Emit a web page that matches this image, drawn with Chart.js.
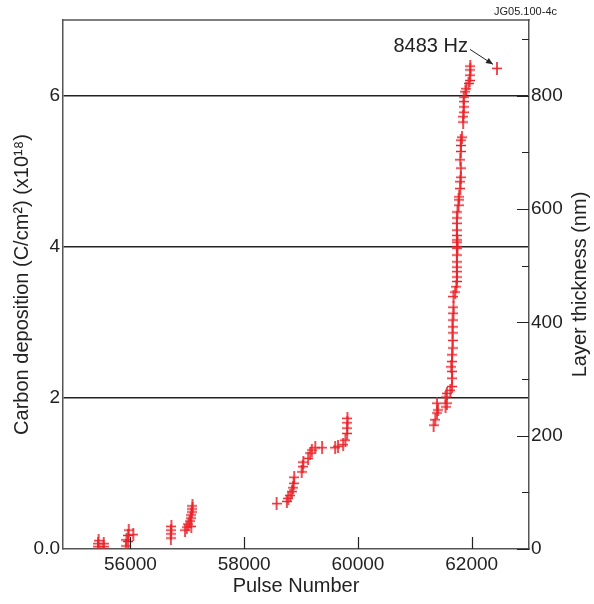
<!doctype html>
<html lang="en">
<head>
	<meta charset="utf-8">
	<title>Carbon deposition vs pulse number</title>
	<script src="https://cdn.jsdelivr.net/npm/chart.js@4.4.1/dist/chart.umd.min.js"></script>
	<style>
		html, body { margin: 0; padding: 0; background: #fff; }
	</style>
</head>

<body>
	<canvas id="myChart" width="594" height="604"></canvas>

	<script>
		// values (pulse number, carbon deposition in 1e18 C/cm2)
		var pulseNumber = [
			55430, 55430, 55440, 55530, 55530,
			55920, 55930, 55960, 55960, 56050, 55970,
			56710, 56710, 56715, 56720,
			56960, 56990, 57070, 57020, 57040, 57060, 57070, 57080, 57090, 57090,
			58570, 58750, 58775, 58810, 58840, 58860, 58870, 58880, 59010, 59030, 59040, 59125,
			59160, 59190, 59250, 59370, 59600, 59650, 59740, 59780, 59810, 59810, 59815, 59815,
			61330, 61360, 61390, 61410, 61390, 61540, 61565, 61540, 61565, 61625, 61655, 61655,
			61655, 61640, 61655, 61655, 61665, 61665, 61665, 61665, 61665, 61680, 61680, 61680,
			61710, 61730, 61740, 61740, 61740, 61740, 61740, 61740, 61750, 61740, 61750, 61740,
			61740, 61740, 61740, 61740, 61750, 61770, 61770, 61780, 61800, 61800, 61810, 61810,
			61800, 61810, 61810, 61810, 61830, 61850, 61850, 61860, 61860, 61860, 61860, 61890,
			61905, 61945, 61965, 61975, 61975, 61975,
			62445
		];
		var carbonDeposition = [
			0.03, 0.07, 0.11, 0.03, 0.07,
			0.04, 0.12, 0.10, 0.18, 0.19, 0.25,
			0.145, 0.20, 0.25, 0.30,
			0.25, 0.29, 0.30, 0.33, 0.37, 0.41, 0.45, 0.49, 0.53, 0.57,
			0.60, 0.63, 0.67, 0.71, 0.76, 0.81, 0.87, 0.95, 1.02, 1.09, 1.15, 1.20,
			1.27, 1.31, 1.34, 1.34, 1.34, 1.36, 1.38, 1.44, 1.53, 1.60, 1.67, 1.73,
			1.64, 1.71, 1.80, 1.84, 1.93, 1.88, 1.93, 2.01, 2.06, 2.10, 2.15, 2.26,
			2.35, 2.41, 2.48, 2.57, 2.66, 2.76, 2.86, 2.94, 3.03, 3.12, 3.20, 3.34,
			3.40, 3.47, 3.54, 3.60, 3.67, 3.73, 3.80, 3.89, 3.98, 4.00, 4.06, 4.09,
			4.15, 4.22, 4.31, 4.38, 4.46, 4.55, 4.62, 4.66, 4.77, 4.86, 4.92, 5.04,
			5.15, 5.26, 5.34, 5.41, 5.45, 5.65, 5.72, 5.78, 5.85, 5.92, 5.98, 6.05,
			6.09, 6.16, 6.20, 6.27, 6.34, 6.39,
			6.36
		];

		var pulseTicks = [56000, 58000, 60000, 62000];
		var depositionTicks = [0, 2, 4, 6];
		var depositionLabels = ['0.0', '2', '4', '6'];
		var thicknessTicks = [0, 100, 200, 300, 400, 500, 600, 700, 800, 900];
		var thicknessLabels = ['0', '', '200', '', '400', '', '600', '', '800', ''];
		var nmPerUnit = 800 / 6;   // 6e18 C/cm2 <-> 800 nm on the right axis

		var noteText = '8483 Hz';
		var noteIndex = pulseNumber.length - 1;
		var figureId = 'JG05.100-4c';

		var red = '#ea2229';
		var ink = '#222';
		var axisGrey = '#555';
		var fontFamily = "'Liberation Sans', Arial, Helvetica, sans-serif";

		function plusMark(w, h, color) {
			var c = document.createElement('canvas');
			c.width = w; c.height = h;
			var g = c.getContext('2d');
			g.strokeStyle = color;
			g.lineWidth = 1.6;
			g.beginPath();
			g.moveTo(0, h / 2); g.lineTo(w, h / 2);
			g.moveTo(w / 2, 0); g.lineTo(w / 2, h);
			g.stroke();
			return c;
		}
		var marker = plusMark(10, 13, red);

		var points = [];
		for (var i = 0; i < pulseNumber.length; i++) points.push({x: pulseNumber[i], y: carbonDeposition[i]});

		// box top edge, inward ticks, right title, annotation
		var extras = {
			id: 'extras',
			afterDraw: function(chart) {
				var ctx = chart.ctx, a = chart.chartArea;
				var xs = chart.scales.x, y2 = chart.scales.y2;
				ctx.save();
				ctx.strokeStyle = axisGrey;
				ctx.lineWidth = 1.5;
				ctx.beginPath();
				ctx.moveTo(a.left - 0.75, a.top);
				ctx.lineTo(a.right + 0.75, a.top);
				ctx.stroke();

				ctx.strokeStyle = ink;
				ctx.lineWidth = 1.2;
				ctx.beginPath();
				pulseTicks.forEach(function(v) {
					var px = Math.round(xs.getPixelForValue(v)) + 0.5;
					ctx.moveTo(px, a.bottom);
					ctx.lineTo(px, a.bottom - 12);
				});
				thicknessTicks.forEach(function(v) {
					var py = Math.round(y2.getPixelForValue(v)) + 0.5;
					var len = v % 200 === 0 ? 12 : 7;
					ctx.moveTo(a.right, py);
					ctx.lineTo(a.right - len, py);
				});
				ctx.stroke();

				// right axis title, reading bottom to top
				ctx.fillStyle = ink;
				ctx.font = '20px ' + fontFamily;
				ctx.textAlign = 'center';
				ctx.textBaseline = 'middle';
				ctx.translate(580, (a.top + a.bottom) / 2);
				ctx.rotate(-Math.PI / 2);
				ctx.fillText('Layer thickness (nm)', 0, 0);
				ctx.restore();

				// annotation with arrow
				var p = chart.getDatasetMeta(0).data[noteIndex];
				ctx.save();
				ctx.fillStyle = ink;
				ctx.font = '20px ' + fontFamily;
				ctx.textAlign = 'right';
				ctx.textBaseline = 'middle';
				ctx.fillText(noteText, p.x - 29, p.y - 22);
				var sx = p.x - 27, sy = p.y - 19, tx = p.x - 4, ty = p.y - 4;
				ctx.strokeStyle = ink;
				ctx.lineWidth = 1;
				ctx.beginPath();
				ctx.moveTo(sx, sy); ctx.lineTo(tx, ty);
				ctx.stroke();
				var ang = Math.atan2(ty - sy, tx - sx);
				ctx.beginPath();
				ctx.moveTo(tx, ty);
				ctx.lineTo(tx - 7 * Math.cos(ang) + 3 * Math.sin(ang), ty - 7 * Math.sin(ang) - 3 * Math.cos(ang));
				ctx.lineTo(tx - 7 * Math.cos(ang) - 3 * Math.sin(ang), ty - 7 * Math.sin(ang) + 3 * Math.cos(ang));
				ctx.closePath();
				ctx.fill();

				ctx.font = '11px ' + fontFamily;
				ctx.textAlign = 'right';
				ctx.fillText(figureId, a.right + 28, 12);
				ctx.restore();
			}
		};

		var ctx = document.getElementById('myChart');
		var myChart = new Chart(ctx, {
			type: 'scatter',
			data: {
				datasets: [{
					label: 'Carbon deposition',
					data: points,
					pointStyle: marker,
					pointRadius: 6,
					borderColor: red,
					backgroundColor: red,
					xAxisID: 'x',
					yAxisID: 'y'
				}]
			},
			options: {
				responsive: false,
				animation: false,
				devicePixelRatio: 1,
				layout: { padding: { top: 20, left: 0, right: 0, bottom: 0 } },
				plugins: {
					legend: { display: false },
					tooltip: { enabled: false }
				},
				scales: {
					x: {
						type: 'linear',
						position: 'bottom',
						min: 54814,
						max: 63008,
						afterBuildTicks: function(s) { s.ticks = pulseTicks.map(function(v) { return {value: v}; }); },
						afterFit: function(s) { s.height = 55; },
						grid: { display: false, drawTicks: false },
						border: { display: true, color: axisGrey, width: 1.5 },
						ticks: {
							color: ink, padding: 4, maxRotation: 0, autoSkip: false,
							font: { family: fontFamily, size: 19 },
							callback: function(v) { return String(v); }
						},
						title: {
							display: true, text: 'Pulse Number', color: ink,
							font: { family: fontFamily, size: 20 },
							padding: { top: 0, bottom: 6 }
						}
					},
					y: {
						type: 'linear',
						position: 'left',
						min: 0,
						max: 7,
						afterBuildTicks: function(s) { s.ticks = depositionTicks.map(function(v) { return {value: v}; }); },
						afterFit: function(s) { s.width = 63; },
						grid: {
							drawTicks: false,
							lineWidth: 1.4,
							color: function(c) { return c.tick && c.tick.value === 0 ? 'rgba(0,0,0,0)' : ink; }
						},
						border: { display: true, color: axisGrey, width: 1.5 },
						ticks: {
							color: ink, padding: 3,
							font: { family: fontFamily, size: 19 },
							callback: function(v) { return depositionLabels[depositionTicks.indexOf(v)]; }
						},
						title: {
							display: true, text: 'Carbon deposition (C/cm\u00b2) (x10\u00b9\u2078)', color: ink,
							font: { family: fontFamily, size: 20 },
							padding: { top: 10, bottom: 0 }
						}
					},
					y2: {
						type: 'linear',
						position: 'right',
						display: true,
						min: 0,
						max: 7 * nmPerUnit,
						afterBuildTicks: function(s) { s.ticks = thicknessTicks.map(function(v) { return {value: v}; }); },
						afterFit: function(s) { s.width = 65; },
						grid: { display: false, drawTicks: false },
						border: { display: true, color: axisGrey, width: 1.5 },
						ticks: {
							color: ink, padding: 2, autoSkip: false,
							font: { family: fontFamily, size: 19 },
							callback: function(v) { return thicknessLabels[thicknessTicks.indexOf(v)]; }
						}
					}
				}
			},
			plugins: [extras]
		});
	</script>
</body>
</html>
